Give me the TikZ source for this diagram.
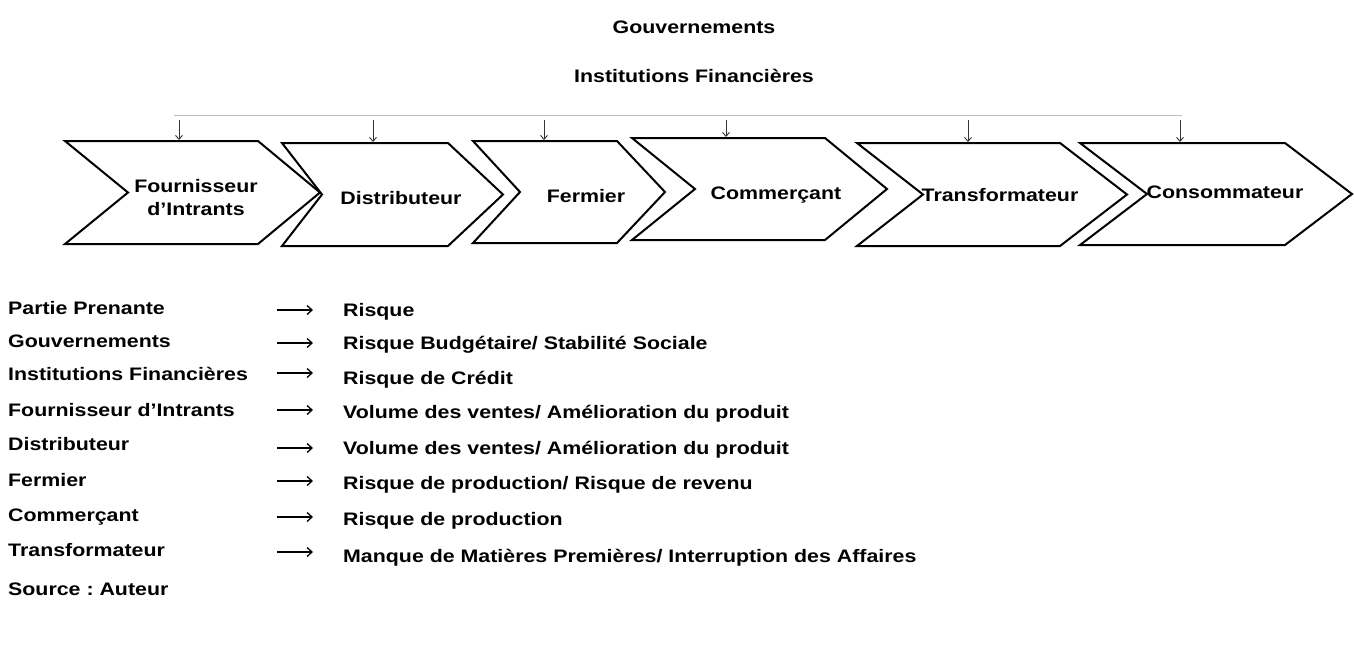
\documentclass[tikz,border=0pt]{standalone}
\usepackage{fontspec}
\setmainfont{Liberation Sans}[FakeStretch=1.18]
\usetikzlibrary{arrows.meta}
\begin{document}
\frenchspacing
\begin{tikzpicture}[x=1pt,y=-1pt,
  lbl/.style={font=\fontsize{18.1}{21}\selectfont\bfseries, inner sep=0pt},
  chev/.style={draw=black, line width=2pt, line join=miter, fill=white},
  downarr/.style={draw=black!80, line width=0.9pt, -{Straight Barb[length=4pt,width=7pt]}},
  riskarr/.style={draw=black, line width=1.3pt, -{Straight Barb[length=5pt,width=9pt]}},
  guide/.style={draw=black!25, line width=0.8pt}]
\useasboundingbox[fill=white] (0,0) rectangle (1354,664);

% titles
\node[lbl, anchor=base] (gov) at (694,33) {Gouvernements};
\node[lbl, anchor=base] (inst) at (694,82) {Institutions Financières};

% guide line
\coordinate (gl) at (174,115);
\coordinate (gr) at (1182,115);
\draw[guide] (gl) -- (gr);

% chevrons
\draw[chev] (65,141) -- (258,141) -- (320,192.5) -- (258,244) -- (65,244) -- (128,192.5) -- cycle;
\draw[chev] (282,143) -- (448,143) -- (503,194.5) -- (448,246) -- (282,246) -- (322,194.5) -- cycle;
\draw[chev] (473,141) -- (617,141) -- (665,192) -- (617,243) -- (473,243) -- (520,192) -- cycle;
\draw[chev] (632,138) -- (825,138) -- (887,189) -- (825,240) -- (632,240) -- (695,189) -- cycle;
\draw[chev] (857,143) -- (1060,143) -- (1127,194.5) -- (1060,246) -- (857,246) -- (923,194.5) -- cycle;
\draw[chev] (1080,143) -- (1285,143) -- (1352,194) -- (1285,245) -- (1080,245) -- (1147,194) -- cycle;

% chevron labels
\node[lbl, align=center, anchor=base] (c1) at (196,215) {Fournisseur\\[2pt]d’Intrants};
\node[lbl, anchor=base] (c2) at (401,204) {Distributeur};
\node[lbl, anchor=base] (c3) at (586,202) {Fermier};
\node[lbl, anchor=base] (c4) at (776,199) {Commerçant};
\node[lbl, anchor=base] (c5) at (1000,201) {Transformateur};
\node[lbl, anchor=base] (c6) at (1225,198) {Consommateur};

% down arrows
\foreach \x/\yt/\n in {179/140/1, 373/142/2, 544/140/3, 726/137/4, 968/142/5, 1180/142/6} {
  \coordinate (da\n) at (\x,120);
  \coordinate (db\n) at (\x,\yt);
  \draw[downarr] (da\n) -- (db\n);
}

% stakeholder / risk list
\foreach \i/\yl/\ya/\yr/\l/\r in {
  1/314/310/316/{Partie Prenante}/{Risque},
  2/347/343/349/{Gouvernements}/{Risque Budgétaire/ Stabilité Sociale},
  3/380/373/384/{Institutions Financières}/{Risque de Crédit},
  4/416/410/418/{Fournisseur d’Intrants}/{Volume des ventes/ Amélioration du produit},
  5/450/448/454/{Distributeur}/{Volume des ventes/ Amélioration du produit},
  6/486/481/489/{Fermier}/{Risque de production/ Risque de revenu},
  7/521/517/525/{Commerçant}/{Risque de production},
  8/556/552/562/{Transformateur}/{Manque de Matières Premières/ Interruption des Affaires}} {
  \node[lbl, anchor=base west] (L\i) at (8,\yl) {\l};
  \node[lbl, anchor=base west] (R\i) at (343,\yr) {\r};
  \coordinate (aL\i) at (277,\ya);
  \coordinate (aR\i) at (313,\ya);
  \draw[riskarr] (aL\i) -- (aR\i);
}
\node[lbl, anchor=base west] (src) at (8,595) {Source : Auteur};
\end{tikzpicture}
\end{document}
